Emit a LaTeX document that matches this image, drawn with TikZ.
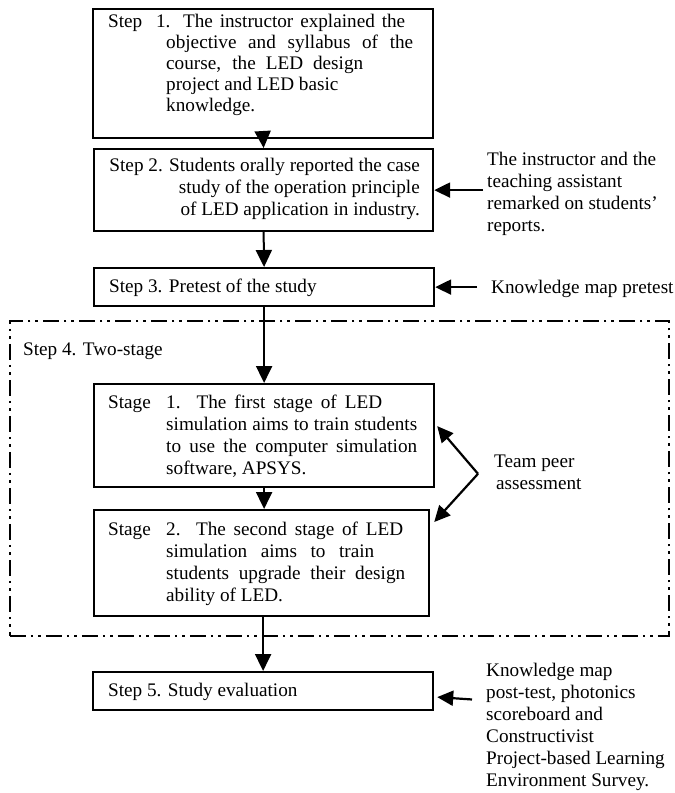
\documentclass[tikz,border=0pt]{standalone}
\usepackage{fontspec}
\setmainfont{Liberation Serif}
\usepackage{tikz}
\usetikzlibrary{arrows.meta}

\newcommand{\diagfont}{\fontsize{19.2pt}{22pt}\selectfont}
\newcommand{\spread}[2]{\makebox[#1][s]{#2}}
\newcommand{\hang}{\hspace*{58pt}}

\tikzset{
  stepbox/.style={draw, line width=2.2pt, inner sep=0pt, anchor=north west},
  steptext/.style={inner sep=0pt, anchor=base west, font=\diagfont},
  flow/.style={line width=2pt, -{Triangle[length=17pt,width=16pt]}},
  side/.style={line width=2.2pt, -{Triangle[length=16pt,width=15pt]}},
  twostage/.style={draw, line width=1.7pt, dash pattern=on 16pt off 5pt on 2.5pt off 5pt on 2.5pt off 5pt,
    inner sep=0pt, anchor=north west}
}

\begin{document}
\begin{tikzpicture}[x=1pt,y=-1pt]
\useasboundingbox (0,0) rectangle (675,793);

% frame of step 4
\node[twostage, minimum width=659pt, minimum height=315pt] (s4) at (9,320) {};

% boxes
\node[stepbox, minimum width=340pt, minimum height=129pt] (s1) at (92,8) {};
\node[stepbox, minimum width=339pt, minimum height=82pt] (s2) at (93,148) {};
\node[stepbox, minimum width=340pt, minimum height=38pt] (s3) at (93,267) {};
\node[stepbox, minimum width=340pt, minimum height=103pt] (st1) at (93,383) {};
\node[stepbox, minimum width=335pt, minimum height=106pt] (st2) at (93,509) {};
\node[stepbox, minimum width=340pt, minimum height=38pt] (s5) at (92,671) {};

% texts in the boxes
\node[steptext] (s1t) at (108,27.5) {\parbox[t]{320pt}{\fontsize{19.2pt}{21pt}\selectfont
  \spread{297pt}{Step\ \ 1. The instructor explained the}\\
  \hang\spread{247pt}{objective and syllabus of the}\\
  \hang\spread{197pt}{course, the LED design}\\
  \hang project and LED basic\\
  \hang knowledge.}};
\node[steptext, anchor=base east] (s2t) at (420,171) {\parbox[t]{320pt}{\raggedleft
  Step 2. Students orally reported the case\\
  study of the operation principle\\
  of LED application in industry.}};
\node[steptext] (s3t) at (109,292) {Step 3. Pretest of the study};
\node[steptext] (s4t) at (23,355) {Step 4. Two-stage};
\node[steptext] (st1t) at (108,408) {\parbox[t]{330pt}{
  \makebox[58pt][l]{Stage}\spread{216pt}{1. The first stage of LED}\\
  \hang\spread{251pt}{simulation aims to train students}\\
  \hang\spread{251pt}{to use the computer simulation}\\
  \hang software, APSYS.}};
\node[steptext] (st2t) at (108,535) {\parbox[t]{330pt}{
  \makebox[58pt][l]{Stage}\spread{237pt}{2. The second stage of LED}\\
  \hang\spread{208pt}{simulation aims to train}\\
  \hang\spread{239pt}{students upgrade their design}\\
  \hang ability of LED.}};
\node[steptext] (s5t) at (108,696) {Step 5. Study evaluation};

% notes on the right
\node[steptext] (n2) at (487,165) {\parbox[t]{190pt}{
  The instructor and the\\
  teaching assistant\\
  remarked on students'\\
  reports.}};
\node[steptext] (n3) at (491,293) {Knowledge map pretest};
\node[steptext] (peer) at (494,467) {\parbox[t]{120pt}{
  Team peer\\
  \hspace*{2pt}assessment}};
\node[steptext] (n5) at (486,676) {\parbox[t]{190pt}{
  Knowledge map\\
  post-test, photonics\\
  scoreboard and\\
  Constructivist\\
  Project-based Learning\\
  Environment Survey.}};
\coordinate (fork) at ([shift={(-16,2)}]peer.west);

% main flow
\draw[flow] (s1.south) -- (s2.north);
\draw[flow] (s2.south) -- (s3.north);
\draw[flow] (s3.south) -- (st1.north);
\draw[flow] (st1.south) -- (st1.south |- st2.north);
\draw[flow] (s5.north |- st2.south) -- (s5.north);

% side arrows
\draw[side] ([xshift=-4pt]n2.west |- s2.east) -- (s2.east);
\draw[side] ([xshift=-14pt]n3.west |- s3.east) -- (s3.east);
\draw[side] (fork) -- ([shift={(2,-9.5)}]st1.east);
\draw[side] (fork) -- ([shift={(4,13)}]st2.north east);
\draw[side] ([shift={(-14,37)}]n5.north west) -- ([shift={(3,6)}]s5.east);
\end{tikzpicture}
\end{document}
